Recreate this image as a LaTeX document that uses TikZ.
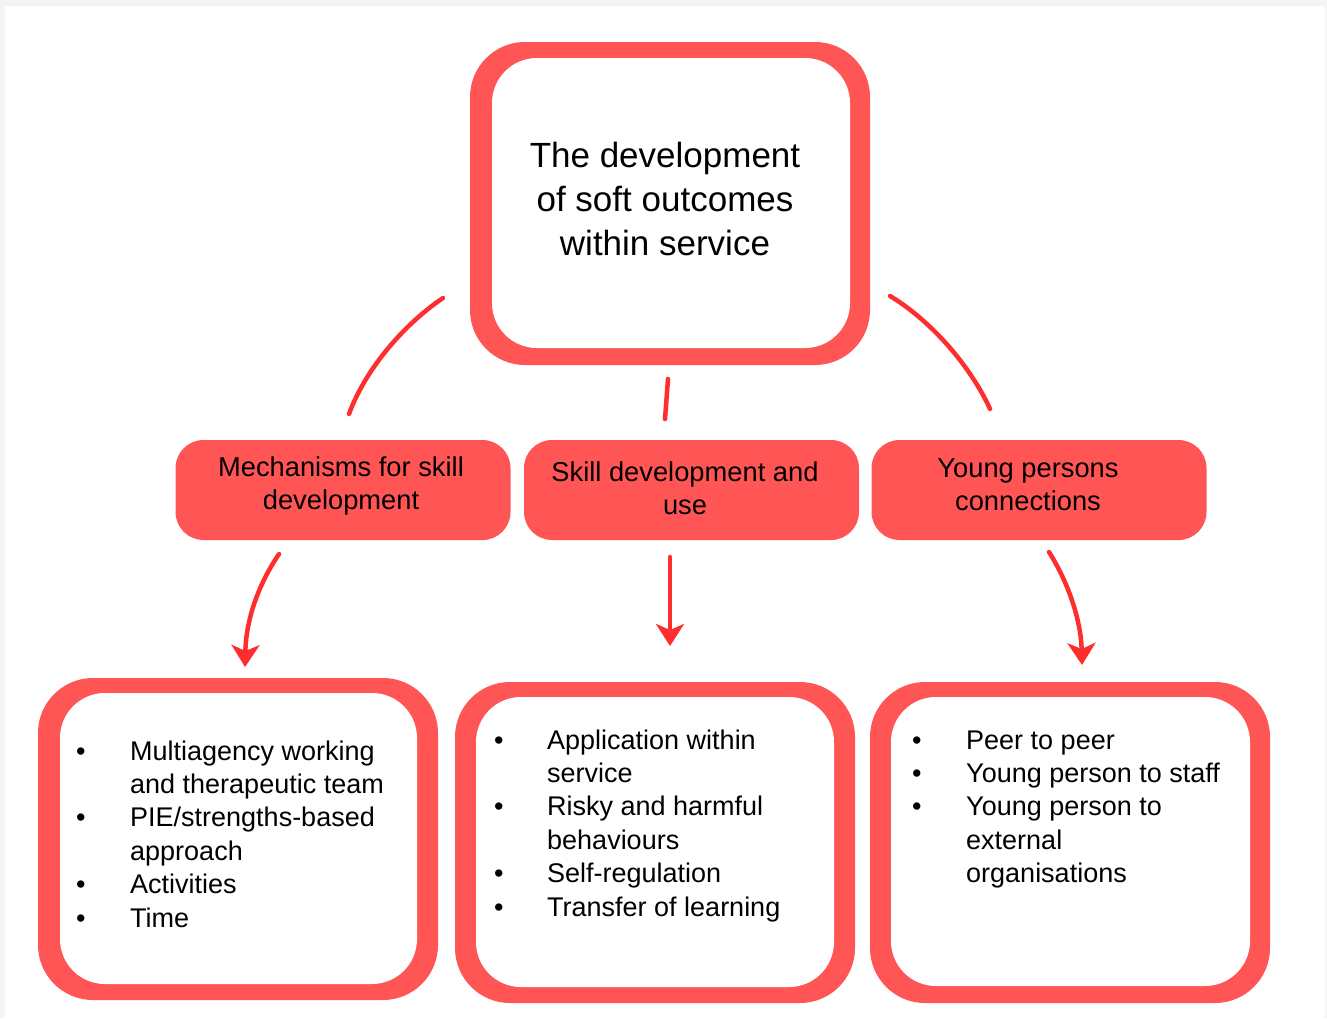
\documentclass[tikz,border=0pt]{standalone}
\usepackage{fontspec}
\setmainfont{Liberation Sans}
\usetikzlibrary{arrows.meta}
\definecolor{boxred}{HTML}{FF5555}
\definecolor{linered}{HTML}{FF2E2E}
\definecolor{bggray}{HTML}{F4F4F4}
\newcommand{\blt}{\textbullet}
\begin{document}
\begin{tikzpicture}[x=1pt,y=-1pt,
 outerbox/.style={fill=boxred, rounded corners=55pt, inner sep=0, draw=none},
 innerbox/.style={fill=white, rounded corners=45pt, inner sep=0, draw=none},
 midbox/.style={fill=boxred, rounded corners=28pt, minimum width=335pt, minimum height=100pt, inner sep=0},
 midtext/.style={align=center, font=\fontsize{27.3}{33}\selectfont, inner sep=0},
 toptext/.style={align=center, font=\fontsize{35}{44}\selectfont, inner sep=0},
 listtext/.style={anchor=base west, inner sep=0, font=\fontsize{27}{33.4}\selectfont},
 conn/.style={draw=linered, line width=4.5pt, line cap=round},
 arr/.style={conn, -{Stealth[length=22pt,width=28pt,inset=6pt]}},
]
% background
\fill[bggray] (0,0) rectangle (1327,1018);
\fill[white] (5,6) rectangle (1325,1018);
\useasboundingbox (0,0) rectangle (1327,1018);

% top box
\node[outerbox, minimum width=400pt, minimum height=323pt] (topo) at (670,203.5) {};
\node[innerbox, minimum width=358pt, minimum height=290pt] (topi) at (671,203) {};
\node[toptext] (topt) at (665,199) {The development\\of soft outcomes\\within service};

% middle boxes
\node[midbox] (m1) at (343,490) {};
\node[midtext] (m1t) at (341,486) {Mechanisms for skill\\development};
\node[midbox] (m2) at (691.5,490) {};
\node[midtext] (m2t) at (685,488) {Skill development and\\use};
\node[midbox] (m3) at (1039,490) {};
\node[midtext] (m3t) at (1028,485) {Young persons\\connections};

% bottom boxes
\node[outerbox, minimum width=400pt, minimum height=322pt] (b1o) at (238,839) {};
\node[innerbox, minimum width=357pt, minimum height=291pt] (b1i) at (238.5,838.5) {};
\node[outerbox, minimum width=400pt, minimum height=321pt] (b2o) at (655,842.5) {};
\node[innerbox, minimum width=358pt, minimum height=290pt] (b2i) at (655,842) {};
\node[outerbox, minimum width=400pt, minimum height=321pt] (b3o) at (1070,842.5) {};
\node[innerbox, minimum width=359pt, minimum height=289pt] (b3i) at (1070.5,841.5) {};

% list texts
\node[listtext] (l1) at (76,760) {\begin{tabular}[t]{@{}p{54pt}@{}l@{}}
\blt & Multiagency working\\
 & and therapeutic team\\
\blt & PIE/strengths-based\\
 & approach\\
\blt & Activities\\
\blt & Time
\end{tabular}};
\node[listtext] (l2) at (494,749) {\begin{tabular}[t]{@{}p{53pt}@{}l@{}}
\blt & Application within\\
 & service\\
\blt & Risky and harmful\\
 & behaviours\\
\blt & Self-regulation\\
\blt & Transfer of learning
\end{tabular}};
\node[listtext] (l3) at (912,749) {\begin{tabular}[t]{@{}p{54pt}@{}l@{}}
\blt & Peer to peer\\
\blt & Young person to staff\\
\blt & Young person to\\
 & external\\
 & organisations
\end{tabular}};

% connector end points
\coordinate (c1a) at (443,298);
\coordinate (c1b) at (349,414);
\coordinate (c2a) at (668,379);
\coordinate (c2b) at (665,419);
\coordinate (c3a) at (890,296);
\coordinate (c3b) at (990,409);
\coordinate (a1a) at (279,554);
\coordinate (a1b) at (245,667);
\coordinate (a2a) at (670,557);
\coordinate (a2b) at (670,646);
\coordinate (a3a) at (1049,552);
\coordinate (a3b) at (1082,665);

\draw[conn] (c1a) .. controls (403,325) and (365,370) .. (c1b);
\draw[conn] (c2a) -- (c2b);
\draw[conn] (c3a) .. controls (930,320) and (970,365) .. (c3b);
\draw[arr] (a1a) .. controls (258,585) and (246,620) .. (a1b);
\draw[arr] (a2a) -- (a2b);
\draw[arr] (a3a) .. controls (1068,582) and (1081,620) .. (a3b);
\end{tikzpicture}
\end{document}
